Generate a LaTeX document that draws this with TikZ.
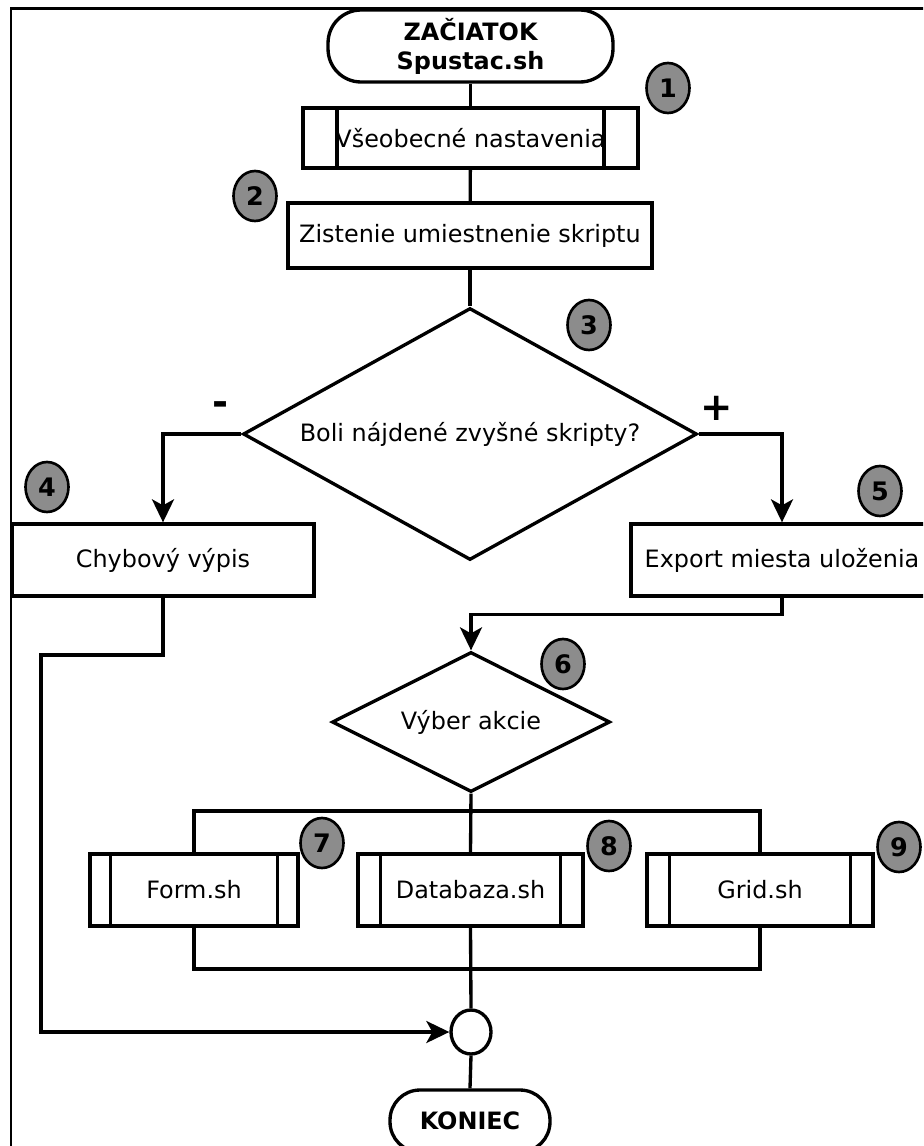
\documentclass[tikz,border=0pt]{standalone}
\usepackage{fontspec}
\setmainfont{DejaVu Sans}
\usetikzlibrary{shapes.geometric,arrows.meta}
\definecolor{numgray}{RGB}{140,140,140}

\begin{document}
\begin{tikzpicture}[x=0.02cm,y=-0.02cm,
  every node/.style={font=\fontsize{13.6}{16.5}\selectfont},
  line/.style={line width=1.9pt},
  box/.style={draw,line width=1.9pt,rectangle,minimum height=1.44cm,inner sep=0pt,align=center},
  subproc/.style={box,path picture={
      \draw[line width=1.9pt]
        ([xshift=#1]path picture bounding box.north west) -- ([xshift=#1]path picture bounding box.south west)
        ([xshift=-#1]path picture bounding box.north east) -- ([xshift=-#1]path picture bounding box.south east);}},
  term/.style={draw,line width=1.9pt,rounded corners=0.66cm,inner sep=0pt,align=center,
    font=\bfseries\fontsize{13.6}{16.5}\selectfont},
  decision/.style={draw,diamond,line width=1.9pt,inner sep=0pt,aspect=1.8},
  num/.style={draw,ellipse,line width=1.5pt,fill=numgray,minimum width=0.86cm,minimum height=1cm,
    inner sep=0pt,font=\bfseries\fontsize{14.5}{16}\selectfont},
  sign/.style={font=\bfseries\fontsize{22}{24}\selectfont},
  arr/.style={line width=1.9pt,-{Stealth[length=0.46cm,width=0.44cm,inset=0.12cm]}},
]
\useasboundingbox (0,0) rectangle (923,1146);
\clip (0,0) rectangle (923,1146);

% outer frame
\draw[line width=1.2pt] (11,1200) -- (11,8.5) -- (1000,8.5);

% main flow
\node[term,minimum width=5.7cm,minimum height=1.44cm] (start) at (470.5,46) {ZAČIATOK\\Spustac.sh};
\node[subproc=0.68cm,minimum width=6.7cm,minimum height=1.2cm] (s1) at (470.5,138) {Všeobecné nastavenia};
\node[box,minimum width=7.28cm,minimum height=1.3cm] (s2) at (470,235.5) {Zistenie umiestnenie skriptu};
\node[decision,minimum width=9.08cm,minimum height=5.04cm] (d3) at (470,434) {Boli nájdené zvyšné skripty?};
\node[box,minimum width=6.04cm] (err) at (163,560) {Chybový výpis};
\node[box,minimum width=6.04cm] (exp) at (782,560) {Export miesta uloženia};
\node[decision,minimum width=5.56cm,minimum height=2.8cm] (d6) at (471,722) {Výber akcie};
\node[subproc=0.41cm,minimum width=4.16cm] (form) at (194,890) {Form.sh};
\node[subproc=0.45cm,minimum width=4.5cm] (db) at (470.5,890) {Databaza.sh};
\node[subproc=0.45cm,minimum width=4.52cm] (grid) at (760,890) {Grid.sh};
\node[draw,ellipse,line width=1.9pt,minimum width=0.8cm,minimum height=0.88cm,inner sep=0pt] (join) at (471,1032) {};
\node[term,minimum width=3.2cm,minimum height=1.24cm,rounded corners=0.6cm] (end) at (470,1121) {KONIEC};

% step numbers
\node[num] (n1) at (668,88) {1};
\node[num] (n2) at (255,196) {2};
\node[num] (n3) at (589,325) {3};
\node[num] (n4) at (47,487) {4};
\node[num] (n5) at (880,491) {5};
\node[num] (n6) at (563,664) {6};
\node[num] (n7) at (322,843) {7};
\node[num] (n8) at (609,846) {8};
\node[num] (n9) at (899,847) {9};

% branch signs
\node[sign] (minus) at (221,409) {-};
\node[sign] (plus) at (717,408) {+};

% connectors
\draw[line] (start) -- (s1);
\draw[line] (s1) -- (s2);
\draw[line] (s2) -- (d3);
\draw[arr] (d3.west) -| (err.north);
\draw[arr] (d3.east) -| (exp.north);
\draw[arr] (exp.south) -- ++(0,17) -| (d6.north);

\coordinate (lft) at (41,655);
\draw[arr] (err.south) |- (lft) |- (join.west);

\coordinate (barT) at (471,811);
\coordinate (barB) at (471,969);
\draw[line] (d6.south) -- (db.north);
\draw[line] (form.north) |- (barT) -| (grid.north);
\draw[line] (form.south) |- (barB) -| (grid.south);
\draw[line] (db.south) -- (join.north);
\draw[line] (join.south) -- (end.north);
\end{tikzpicture}
\end{document}
